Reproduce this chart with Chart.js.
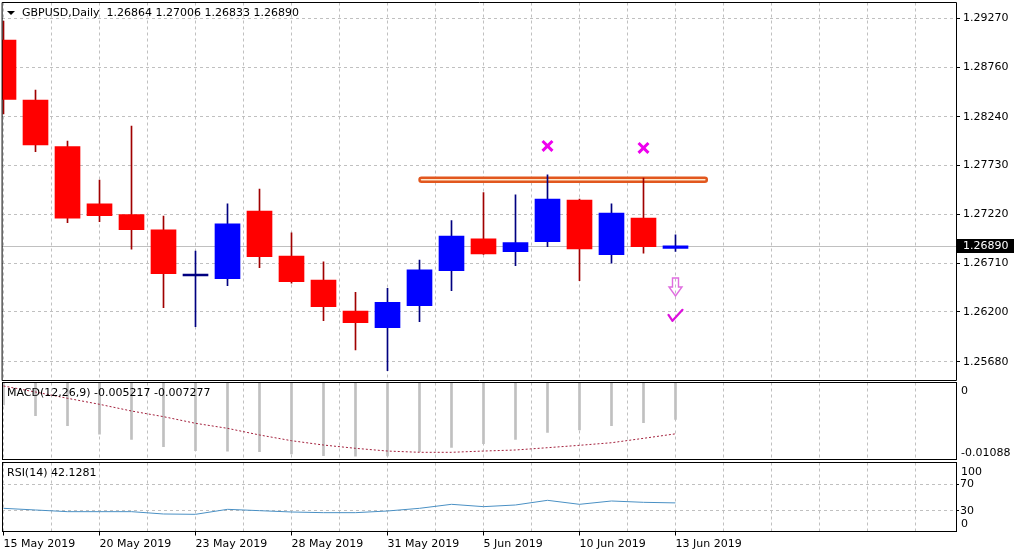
<!DOCTYPE html>
<html>
<head>
<meta charset="utf-8">
<script src="https://cdn.jsdelivr.net/npm/chart.js@4.4.0/dist/chart.umd.min.js"></script>
<style>
  html, body { margin: 0; padding: 0; background: #fff; }
  body { width: 1020px; height: 556px; position: relative; overflow: hidden; }
  canvas { position: absolute; left: 0; }
</style>
</head>
<body>
<canvas id="price" width="1020" height="381" style="top:0px"></canvas>
<canvas id="macd" width="1020" height="79" style="top:381px"></canvas>
<canvas id="rsi" width="1020" height="96" style="top:460px"></canvas>
<script>
// GBPUSD daily candles
const dates = ['15 May 2019', '16 May 2019', '17 May 2019', '20 May 2019', '21 May 2019', '22 May 2019',
  '23 May 2019', '24 May 2019', '27 May 2019', '28 May 2019', '29 May 2019', '30 May 2019', '31 May 2019',
  '3 Jun 2019', '4 Jun 2019', '5 Jun 2019', '6 Jun 2019', '7 Jun 2019', '10 Jun 2019', '11 Jun 2019',
  '12 Jun 2019', '13 Jun 2019'];
const openP = [1.29043, 1.28416, 1.27928, 1.27329, 1.27217, 1.27057, 1.26576, 1.26548, 1.27255, 1.26785, 1.26534,
  1.26210, 1.26035, 1.26265, 1.26631, 1.26963, 1.26830, 1.26934, 1.27370, 1.26799, 1.27182, 1.26864];
const highP = [1.29240, 1.28520, 1.27987, 1.27579, 1.28144, 1.27203, 1.26837, 1.27329, 1.27485, 1.27028, 1.26725,
  1.26405, 1.26447, 1.26743, 1.27154, 1.27447, 1.27423, 1.27632, 1.27380, 1.27329, 1.27600, 1.27006];
const lowP = [1.28270, 1.27875, 1.27133, 1.27143, 1.26855, 1.26244, 1.26046, 1.26474, 1.26663, 1.26500, 1.26108,
  1.25802, 1.25586, 1.26098, 1.26422, 1.26800, 1.26683, 1.26882, 1.26527, 1.26709, 1.26813, 1.26833];
const closeP = [1.28423, 1.27945, 1.27179, 1.27206, 1.27060, 1.26600, 1.26578, 1.27120, 1.26778, 1.26516, 1.26255,
  1.26088, 1.26301, 1.26639, 1.26994, 1.26806, 1.26924, 1.27381, 1.26858, 1.27234, 1.26882, 1.26890];
const priceTicks = [1.25680, 1.26200, 1.26710, 1.27220, 1.27730, 1.28240, 1.28760, 1.29270];
const lastPrice = 1.26890;

// annotations
const crossIdx = [17, 20];
const crossPrice = [1.27935, 1.27914];
const zoneIdx = [13.0, 21.98];
const zonePrice = [1.27561, 1.27603];
const signalIdx = 21;
const arrowPrice = 1.26461;
const checkPrice = 1.26159;

// indicators
const macdHist = [-0.00315, -0.00468, -0.00611, -0.00734, -0.00806, -0.00912, -0.00969, -0.00974, -0.00984, -0.01016,
  -0.01041, -0.01049, -0.01045, -0.00984, -0.00921, -0.00869, -0.00806, -0.00706, -0.00673, -0.00611, -0.00568, -0.005217];
const macdSignal = [-0.00043, -0.00129, -0.00219, -0.00305, -0.00401, -0.00482, -0.00577, -0.00649, -0.00744, -0.00826,
  -0.00888, -0.00935, -0.00974, -0.00992, -0.00992, -0.00974, -0.00959, -0.00926, -0.00892, -0.00855, -0.00792, -0.007277];
const rsi14 = [34.0, 31.5, 29.0, 29.0, 29.0, 25.5, 25.0, 32.5, 30.5, 28.5, 27.5, 27.5, 30.0, 34.0, 40.0, 36.5, 39.0,
  46.0, 40.0, 45.0, 43.0, 42.1281];

const X_MIN = -0.047, X_MAX = 29.766;
const GRID = '#c0c0c0';
const FONT = '11px "DejaVu Sans"';

Chart.defaults.font.family = 'DejaVu Sans';
Chart.defaults.font.size = 11;
Chart.defaults.color = '#000';

const isBull = i => closeP[i] >= openP[i];
const wickColor = i => isBull(i) ? '#000080' : '#a00000';
const bodyColor = i => Math.abs(closeP[i] - openP[i]) < 0.00005 ? wickColor(i) : (isBull(i) ? '#0000ff' : '#ff0000');
const labelTick = v => Number.isInteger(v) && v % 3 === 0 && v < dates.length;

function xScale(showLabels) {
  return {
    type: 'linear', min: X_MIN, max: X_MAX, offset: false,
    grid: {
      color: GRID, offset: false, drawTicks: showLabels, tickLength: 4, tickBorderDash: [],
      tickColor: c => (c.tick && labelTick(c.tick.value)) ? '#000' : 'rgba(0,0,0,0)'
    },
    border: { display: false, dash: [3, 3] },
    ticks: {
      display: showLabels, autoSkip: false, maxRotation: 0, align: 'start', padding: 2,
      callback: v => labelTick(v) ? dates[v] : ''
    },
    afterBuildTicks: a => {
      const t = [];
      for (let v = 0; v <= X_MAX; v += 1.5) t.push({ value: v });
      a.ticks = t;
    },
    afterFit: a => { a.height = showLabels ? 24.5 : 0; a.paddingLeft = 0; a.paddingRight = 0; }
  };
}

function yFit(a) { a.width = 64; a.paddingTop = 0; a.paddingBottom = 0; }

function frame(title, titleX, sideLabels, extra) {
  return {
    id: 'frame',
    beforeDatasetsDraw(chart) {
      if (extra && extra.before) extra.before(chart);
    },
    afterDraw(chart) {
      const ctx = chart.ctx, a = chart.chartArea;
      ctx.save();
      if (extra && extra.after) extra.after(chart);
      ctx.setLineDash([]);
      ctx.strokeStyle = '#000';
      ctx.lineWidth = 1;
      const l = Math.floor(a.left) + 0.5, t = Math.floor(a.top) + 0.5;
      const r = Math.floor(a.right) + 0.5, b = Math.floor(a.bottom) + 0.5;
      ctx.strokeRect(l, t, r - l, b - t);
      ctx.font = FONT;
      ctx.fillStyle = '#000';
      ctx.textAlign = 'left';
      ctx.textBaseline = 'middle';
      ctx.fillText(title, titleX, a.top + 10.5);
      sideLabels.forEach(s => {
        ctx.fillText(s.text, a.right + 5, chart.scales.y.getPixelForValue(s.value) + s.dy);
      });
      ctx.restore();
    }
  };
}

// ---- price panel ----
const priceExtra = {
  before(chart) {
    const ctx = chart.ctx, a = chart.chartArea, xs = chart.scales.x, ys = chart.scales.y;
    ctx.save();
    const yl = Math.round(ys.getPixelForValue(lastPrice)) + 0.5;
    ctx.strokeStyle = GRID;
    ctx.lineWidth = 1;
    ctx.beginPath();
    ctx.moveTo(a.left, yl);
    ctx.lineTo(a.right, yl);
    ctx.stroke();
    const x1 = xs.getPixelForValue(zoneIdx[0]), x2 = xs.getPixelForValue(zoneIdx[1]);
    const y1 = ys.getPixelForValue(zonePrice[1]), y2 = ys.getPixelForValue(zonePrice[0]);
    ctx.fillStyle = '#fde9cc';
    ctx.strokeStyle = '#e2571e';
    ctx.lineWidth = 2.4;
    ctx.beginPath();
    if (ctx.roundRect) ctx.roundRect(x1, y1, x2 - x1, y2 - y1, 2.5); else ctx.rect(x1, y1, x2 - x1, y2 - y1);
    ctx.fill();
    ctx.stroke();
    ctx.restore();
  },
  after(chart) {
    const ctx = chart.ctx, a = chart.chartArea, xs = chart.scales.x, ys = chart.scales.y;
    // hollow down arrow
    const ax = xs.getPixelForValue(signalIdx), ay = ys.getPixelForValue(arrowPrice);
    ctx.strokeStyle = '#e06ee0';
    ctx.lineWidth = 1.4;
    ctx.beginPath();
    ctx.moveTo(ax - 3, ay - 9);
    ctx.lineTo(ax + 3, ay - 9);
    ctx.lineTo(ax + 3, ay);
    ctx.lineTo(ax + 6.5, ay);
    ctx.lineTo(ax, ay + 9);
    ctx.lineTo(ax - 6.5, ay);
    ctx.lineTo(ax - 3, ay);
    ctx.closePath();
    ctx.stroke();
    // check mark
    const cy = ys.getPixelForValue(checkPrice);
    ctx.strokeStyle = '#dd10dd';
    ctx.lineWidth = 2.2;
    ctx.lineCap = 'round';
    ctx.lineJoin = 'round';
    ctx.beginPath();
    ctx.moveTo(ax - 7, cy - 1);
    ctx.lineTo(ax - 3, cy + 5);
    ctx.lineTo(ax + 7, cy - 6);
    ctx.stroke();
    // current price tag
    const yl = Math.round(ys.getPixelForValue(lastPrice));
    ctx.fillStyle = '#000';
    ctx.fillRect(a.right + 1, yl - 7, 57, 14);
    ctx.fillStyle = '#fff';
    ctx.font = FONT;
    ctx.textAlign = 'left';
    ctx.textBaseline = 'middle';
    ctx.fillText(lastPrice.toFixed(5), a.right + 7, yl);
    // title triangle
    ctx.fillStyle = '#000';
    ctx.beginPath();
    ctx.moveTo(7, 11);
    ctx.lineTo(15, 11);
    ctx.lineTo(11, 15);
    ctx.closePath();
    ctx.fill();
  }
};

const idx = dates.map((d, i) => i);

new Chart(document.getElementById('price'), {
  type: 'bar',
  data: {
    datasets: [
      {
        type: 'line', label: 'signals', order: 0, showLine: false,
        data: crossIdx.map((x, k) => ({ x: x, y: crossPrice[k] })),
        pointStyle: 'crossRot', pointRadius: 7, pointBorderWidth: 3,
        borderColor: '#ee00ee', backgroundColor: '#ee00ee'
      },
      {
        label: 'body', order: 1, grouped: false, barThickness: 25, minBarLength: 2,
        data: idx.map(i => ({ x: i, y: [openP[i], closeP[i]] })),
        backgroundColor: idx.map(bodyColor), borderWidth: 0
      },
      {
        label: 'wick', order: 2, grouped: false, barThickness: 1,
        data: idx.map(i => ({ x: i, y: [lowP[i], highP[i]] })),
        backgroundColor: idx.map(wickColor), borderWidth: 0
      }
    ]
  },
  options: {
    responsive: false, animation: false, devicePixelRatio: 1,
    layout: { autoPadding: false, padding: { left: 2, right: 0, top: 2.5, bottom: 0.5 } },
    plugins: { legend: { display: false }, tooltip: { enabled: false } },
    scales: {
      x: xScale(false),
      y: {
        position: 'right', min: 1.25483, max: 1.29435,
        grid: { color: GRID, tickLength: 4, tickColor: '#000', tickBorderDash: [] },
        border: { display: false, dash: [3, 3] },
        ticks: { padding: 3, callback: v => v.toFixed(5) },
        afterBuildTicks: a => { a.ticks = priceTicks.map(v => ({ value: v })); },
        afterFit: yFit
      }
    }
  },
  plugins: [frame('GBPUSD,Daily  1.26864 1.27006 1.26833 1.26890', 22, [], priceExtra)]
});

// ---- MACD panel ----
new Chart(document.getElementById('macd'), {
  type: 'bar',
  data: {
    datasets: [
      {
        type: 'line', label: 'signal', order: 0,
        data: idx.map(i => ({ x: i, y: macdSignal[i] })),
        borderColor: '#a3203c', borderWidth: 1, borderDash: [2, 2], pointRadius: 0, tension: 0
      },
      {
        label: 'macd', order: 1, grouped: false, barThickness: 2,
        data: idx.map(i => ({ x: i, y: macdHist[i] })),
        backgroundColor: '#c0c0c0', borderWidth: 0
      }
    ]
  },
  options: {
    responsive: false, animation: false, devicePixelRatio: 1,
    layout: { autoPadding: false, padding: { left: 2, right: 0, top: 1.5, bottom: 0.5 } },
    plugins: { legend: { display: false }, tooltip: { enabled: false } },
    scales: {
      x: xScale(false),
      y: {
        position: 'right', min: -0.01095, max: 0.00007,
        grid: { display: false },
        border: { display: false },
        ticks: { display: false },
        afterFit: yFit
      }
    }
  },
  plugins: [frame('MACD(12,26,9) -0.005217 -0.007277', 7,
    [{ value: 0, text: '0', dy: 8 }, { value: -0.01088, text: '-0.01088', dy: -6 }])]
});

// ---- RSI panel ----
new Chart(document.getElementById('rsi'), {
  type: 'line',
  data: {
    datasets: [{
      label: 'RSI(14)',
      data: idx.map(i => ({ x: i, y: rsi14[i] })),
      borderColor: '#4a90c4', borderWidth: 1, pointRadius: 0, tension: 0
    }]
  },
  options: {
    responsive: false, animation: false, devicePixelRatio: 1,
    layout: { autoPadding: false, padding: { left: 2, right: 0, top: 2.5, bottom: 0 } },
    plugins: { legend: { display: false }, tooltip: { enabled: false } },
    scales: {
      x: xScale(true),
      y: {
        position: 'right', min: -0.75, max: 102.7,
        grid: { color: GRID, tickLength: 3, tickColor: '#000', tickBorderDash: [] },
        border: { display: false, dash: [3, 3] },
        ticks: { padding: 1 },
        afterBuildTicks: a => { a.ticks = [30, 70].map(v => ({ value: v })); },
        afterFit: yFit
      }
    }
  },
  plugins: [frame('RSI(14) 42.1281', 7,
    [{ value: 100, text: '100', dy: 7.5 }, { value: 0, text: '0', dy: -6.5 }])]
});
</script>
</body>
</html>
